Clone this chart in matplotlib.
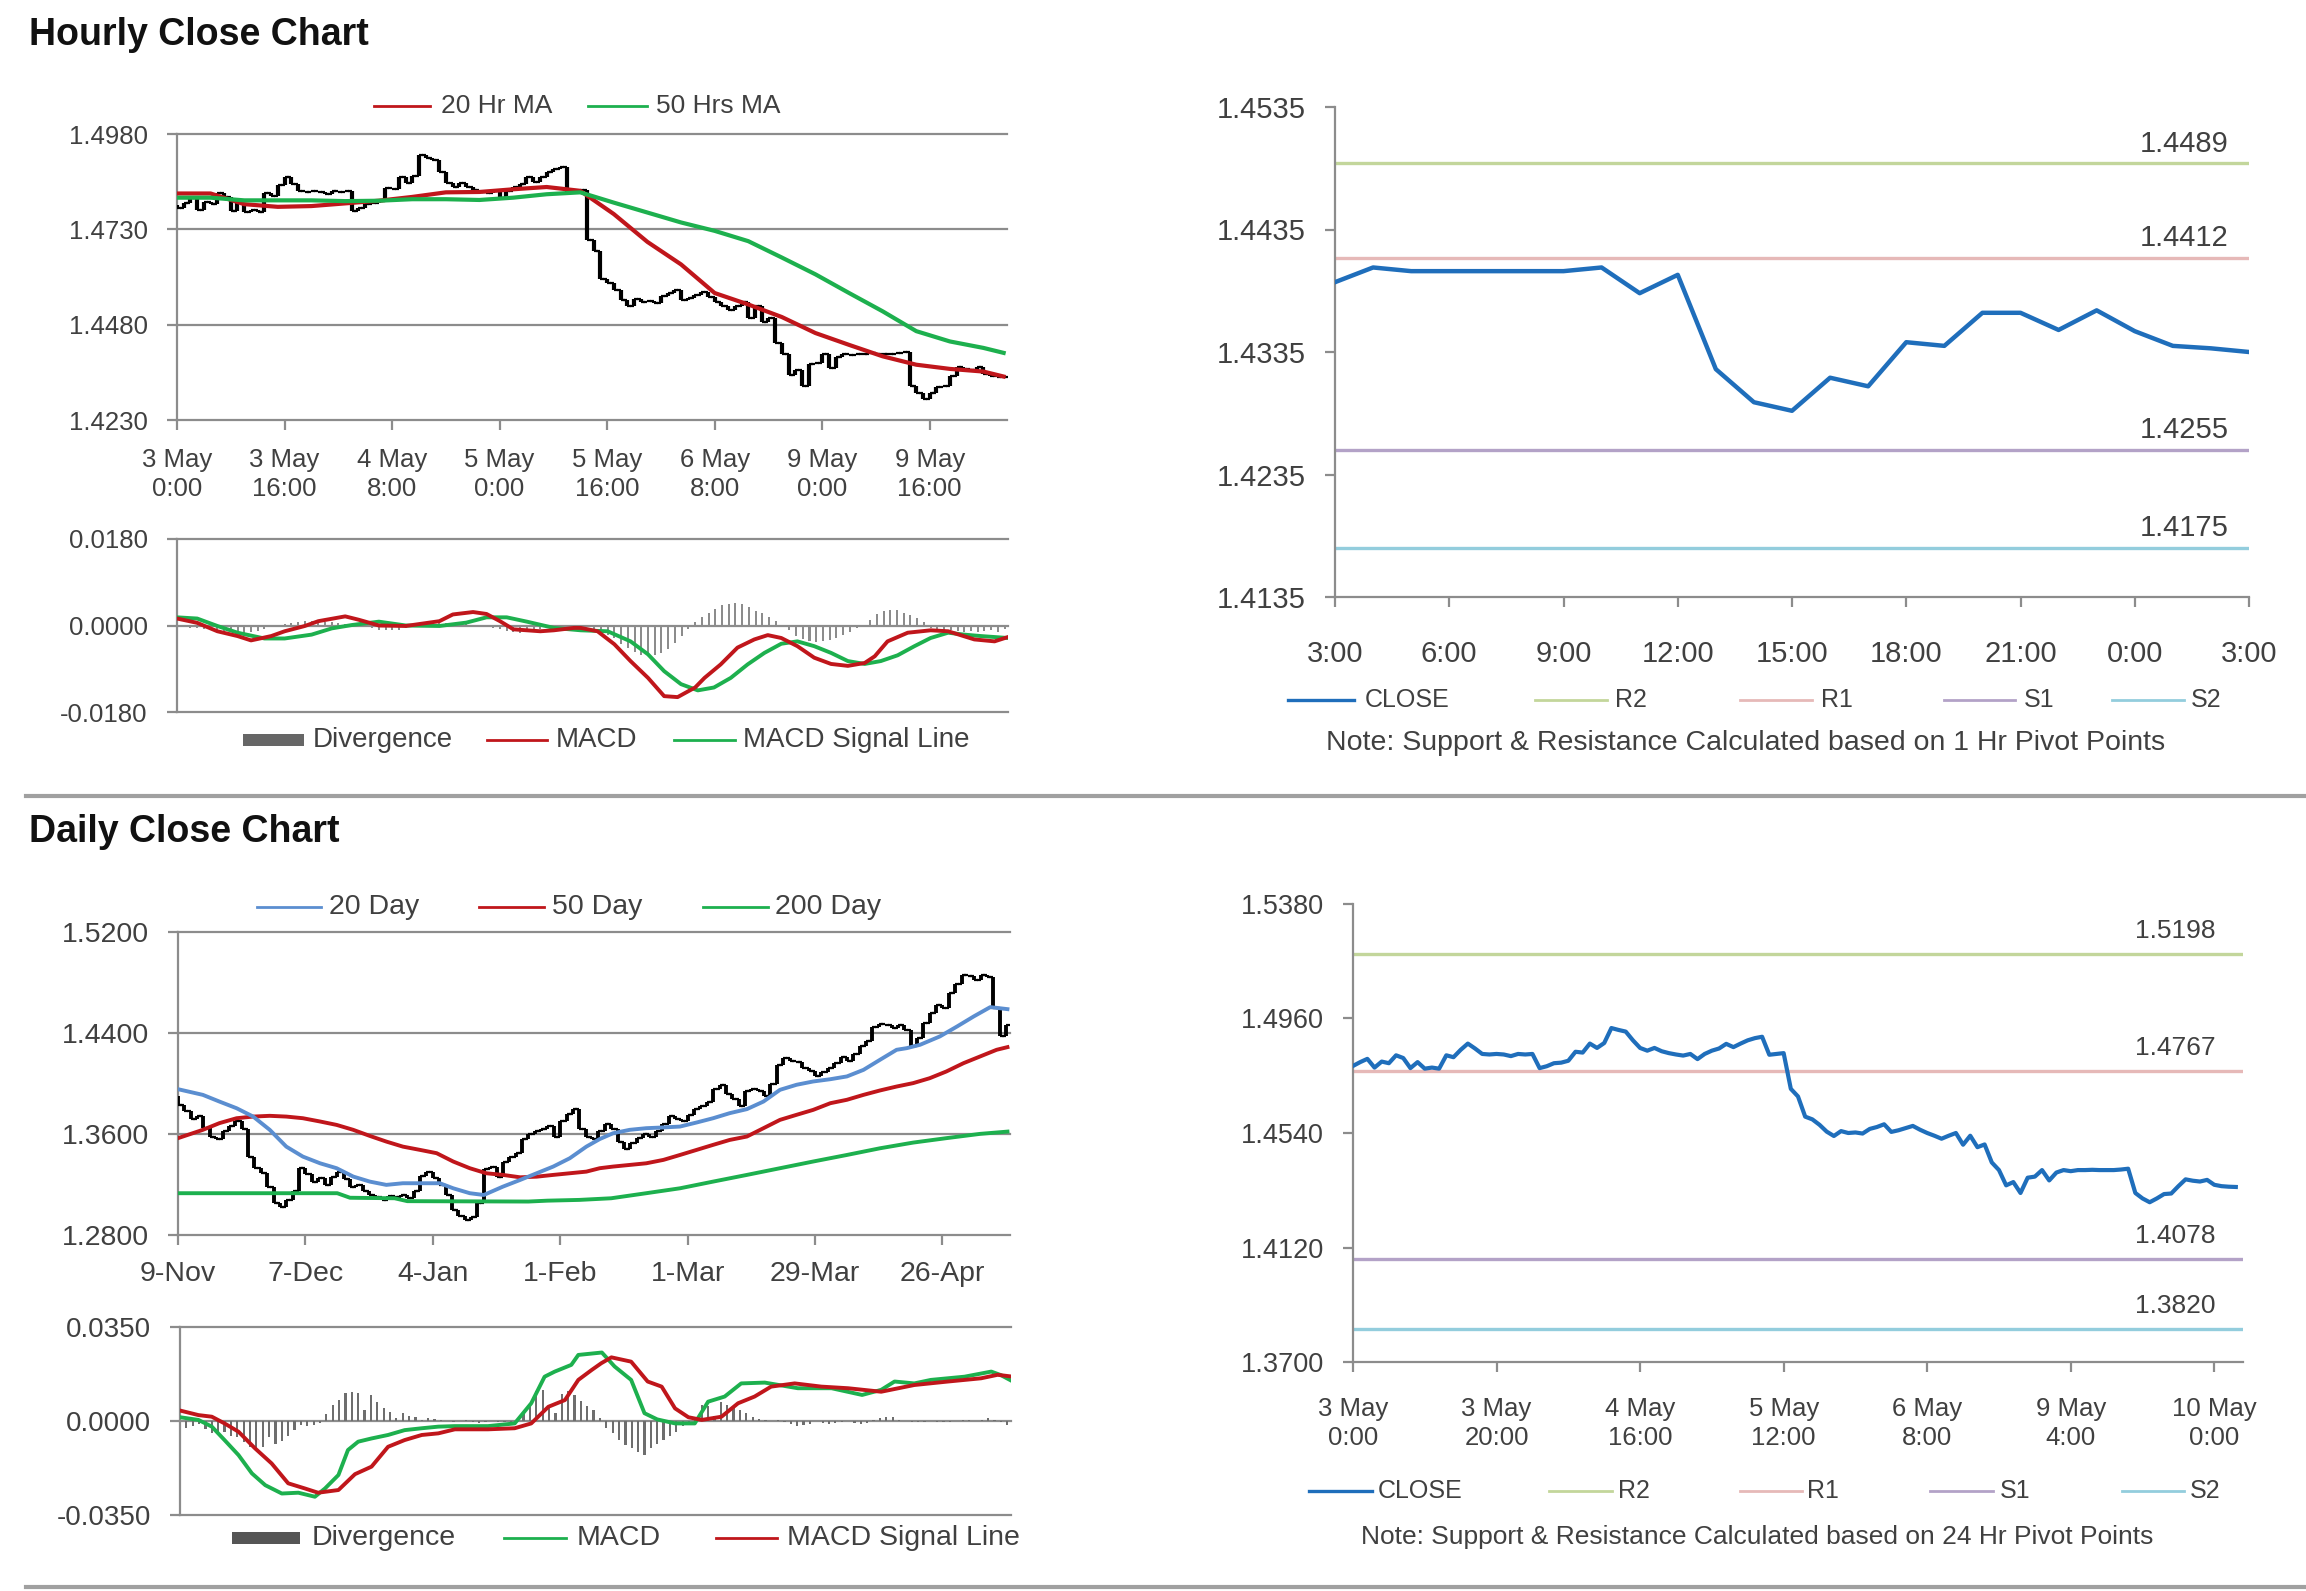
import numpy as np
import matplotlib
matplotlib.use('Agg')
import matplotlib.pyplot as plt
from matplotlib.lines import Line2D
from matplotlib.patches import Rectangle
from matplotlib.ticker import FormatStrFormatter

plt.rcParams['font.family'] = ['Liberation Sans', 'DejaVu Sans']

# ---------------- hourly data (3 May 0:00 .. 10 May 3:00) ----------------
hr_first_open = 1.4795
hr_close = [1.4786, 1.4800, 1.4812, 1.4780, 1.4802, 1.4796, 1.4825, 1.4815, 1.4778, 1.4800,
            1.4776, 1.4780, 1.4776, 1.4825, 1.4818, 1.4845, 1.4868, 1.4850, 1.4830, 1.4828,
            1.4830, 1.4828, 1.4822, 1.4830, 1.4828, 1.4830, 1.4778, 1.4785, 1.4796, 1.4798,
            1.4805, 1.4838, 1.4835, 1.4868, 1.4852, 1.4870, 1.4925, 1.4918, 1.4912, 1.4880,
            1.4852, 1.4842, 1.4852, 1.4840, 1.4833, 1.4828, 1.4824, 1.4830, 1.4811, 1.4830,
            1.4842, 1.4850, 1.4867, 1.4855, 1.4868, 1.4880, 1.4888, 1.4893, 1.4827, 1.4830,
            1.4833, 1.4702, 1.4674, 1.4600, 1.4590, 1.4570, 1.4545, 1.4529, 1.4547, 1.4540,
            1.4542, 1.4538, 1.4555, 1.4562, 1.4572, 1.4544, 1.4550, 1.4558, 1.4566, 1.4552,
            1.4540, 1.4530, 1.4519, 1.4530, 1.4540, 1.4497, 1.4530, 1.4488, 1.4498, 1.4432,
            1.4404, 1.4348, 1.4360, 1.4320, 1.4376, 1.4380, 1.4404, 1.4366, 1.4395, 1.4404,
            1.4400, 1.4404, 1.4404, 1.4405, 1.4404, 1.4404, 1.4404, 1.4406, 1.4409, 1.4320,
            1.4300, 1.4286, 1.4300, 1.4316, 1.4318, 1.4345, 1.4370, 1.4365, 1.4362, 1.4368,
            1.4350, 1.4345, 1.4343, 1.4342]
hr_ticklabels = ['3 May\n0:00', '3 May\n16:00', '4 May\n8:00', '5 May\n0:00',
                 '5 May\n16:00', '6 May\n8:00', '9 May\n0:00', '9 May\n16:00']

hr_ma_x = [0, 5, 10, 15, 20, 25, 30, 35, 40, 45, 50, 55, 60, 65, 70, 75, 80, 85, 90,
           95, 100, 105, 110, 115, 120, 123]
hr_ma20 = [1.4824, 1.4824, 1.4796, 1.4789, 1.4791, 1.4798, 1.4805, 1.4815, 1.4827, 1.4828,
           1.4835, 1.4841, 1.4831, 1.4770, 1.4697, 1.4638, 1.4563, 1.4533, 1.4500, 1.4458,
           1.4427, 1.4397, 1.4375, 1.4364, 1.4357, 1.4344]
hr_ma50 = [1.4813, 1.4813, 1.4806, 1.4806, 1.4806, 1.4804, 1.4805, 1.4809, 1.4809, 1.4807,
           1.4813, 1.4822, 1.4827, 1.4800, 1.4774, 1.4748, 1.4726, 1.4699, 1.4656, 1.4612,
           1.4563, 1.4515, 1.4463, 1.4436, 1.4419, 1.4406]

hr_macd_x = [0, 3, 6, 9, 11, 14, 16, 19, 21, 25, 27, 30, 34, 36, 39, 41, 44, 46, 48, 50,
             54, 56, 59, 60, 62.5, 65, 67.4, 70, 72.4, 74.4, 77, 78.4, 80.8, 83.3, 85.8,
             87.8, 89.8, 92.2, 94.7, 97.2, 99.7, 102.2, 103.7, 105.6, 108.6, 112, 114.6,
             118.5, 121.5, 123.5]
hr_macd = [0.00145, 0.00055, -0.0012, -0.0022, -0.0031, -0.0022, -0.0012, -0.0001, 0.0009,
           0.0019, 0.0012, 0.0000, -0.0001, 0.0003, 0.0009, 0.0023, 0.0028, 0.0024, 0.0009,
           -0.0008, -0.0012, -0.0010, -0.0005, -0.0005, -0.0012, -0.0039, -0.0074, -0.0109,
           -0.0147, -0.0149, -0.0129, -0.0109, -0.0081, -0.0046, -0.0029, -0.0020, -0.0026,
           -0.0043, -0.0067, -0.0080, -0.0084, -0.0078, -0.0064, -0.0033, -0.0015, -0.0010,
           -0.0012, -0.0029, -0.0033, -0.0024]
hr_sig_x = [0, 3, 6, 9, 13, 16, 20, 23, 26, 30, 34, 39, 43, 46, 49, 52, 56, 60, 64, 67.4,
            70, 72.4, 74.9, 77.4, 79.8, 82.3, 84.8, 87.3, 89.8, 92.2, 94.7, 97.2, 99.7,
            102.2, 104.6, 107.1, 109.6, 112, 114.6, 117, 119.5, 123.5]
hr_sig = [0.0017, 0.00145, -0.0001, -0.0015, -0.0027, -0.0027, -0.0019, -0.0006, 0.0001,
          0.0008, 0.0000, -0.0001, 0.0006, 0.0017, 0.0017, 0.0008, -0.0005, -0.0010, -0.0012,
          -0.0033, -0.0060, -0.0095, -0.0122, -0.0135, -0.0129, -0.0109, -0.0081, -0.0057,
          -0.0038, -0.0033, -0.0043, -0.0057, -0.0074, -0.0080, -0.0074, -0.0062, -0.0043,
          -0.0026, -0.0015, -0.0019, -0.0022, -0.0026]
# divergence in units of 0.0001
hr_div = [0, -3, -5, -6, -8, -10, -12, -12, -14, -15,
          -15, -14, -12, -8, -4, 2, 4, 6, 8, 9,
          9, 8, 8, 7, 5, 4, 2, 0, -3, -6,
          -9, -10, -10, -9, -6, -3, 0, 2, 4, 5,
          6, 6, 5, 4, 2, 0, -2, -5, -8, -12,
          -14, -15, -14, -12, -8, -5, -3, -1, 0, -1,
          -2, -4, -8, -12, -19, -26, -38, -47, -55, -62,
          -64, -62, -58, -48, -37, -22, -8, 8, 17, 26,
          35, 42, 44, 47, 44, 38, 31, 26, 17, 9,
          -1, -10, -22, -28, -32, -34, -33, -30, -25, -19,
          -13, -6, 0, 12, 23, 30, 33, 32, 27, 22,
          16, 7, -6, -10, -12, -10, -12, -13, -11, -14,
          -12, -10, -13, -8]

# last 24 hours, 1 Hr pivots
sr1_close = [1.4392, 1.4404, 1.4401, 1.4401, 1.4401, 1.4401, 1.4401, 1.4404, 1.4383, 1.4398,
             1.4321, 1.4294, 1.4287, 1.4314, 1.4307, 1.4343, 1.4340, 1.4367, 1.4367, 1.4353,
             1.4369, 1.4352, 1.4340, 1.4338, 1.4335]
sr1_labels = ['3:00', '6:00', '9:00', '12:00', '15:00', '18:00', '21:00', '0:00', '3:00']
sr1_levels = {'R2': 1.4489, 'R1': 1.4412, 'S1': 1.4255, 'S2': 1.4175}

# ---------------- daily data (9 Nov .. 10 May) ----------------
dy_first_open = 1.3900
dy_close = [1.3830, 1.3780, 1.3720, 1.3740, 1.3650, 1.3580, 1.3560, 1.3620, 1.3660, 1.3700,
            1.3640, 1.3420, 1.3330, 1.3290, 1.3180, 1.3050, 1.3020, 1.3080, 1.3150, 1.3330,
            1.3280, 1.3220, 1.3250, 1.3200, 1.3260, 1.3300, 1.3240, 1.3180, 1.3200, 1.3150,
            1.3120, 1.3100, 1.3080, 1.3110, 1.3100, 1.3120, 1.3090, 1.3150, 1.3270, 1.3300,
            1.3250, 1.3200, 1.3120, 1.3000, 1.2950, 1.2920, 1.2940, 1.3050, 1.3320, 1.3340,
            1.3260, 1.3380, 1.3420, 1.3450, 1.3560, 1.3600, 1.3620, 1.3640, 1.3660, 1.3580,
            1.3700, 1.3760, 1.3800, 1.3640, 1.3580, 1.3560, 1.3620, 1.3680, 1.3640, 1.3540,
            1.3480, 1.3530, 1.3570, 1.3600, 1.3580, 1.3620, 1.3680, 1.3740, 1.3720, 1.3700,
            1.3750, 1.3800, 1.3820, 1.3850, 1.3960, 1.3990, 1.3920, 1.3880, 1.3820, 1.3940,
            1.3960, 1.3940, 1.3900, 1.4000, 1.4150, 1.4200, 1.4180, 1.4170, 1.4120, 1.4100,
            1.4060, 1.4090, 1.4120, 1.4160, 1.4210, 1.4180, 1.4230, 1.4300, 1.4340, 1.4450,
            1.4470, 1.4460, 1.4440, 1.4460, 1.4420, 1.4300, 1.4360, 1.4480, 1.4560, 1.4620,
            1.4600, 1.4720, 1.4790, 1.4860, 1.4850, 1.4820, 1.4860, 1.4840, 1.4600, 1.4380,
            1.4460]
dy_ticklabels = ['9-Nov', '7-Dec', '4-Jan', '1-Feb', '1-Mar', '29-Mar', '26-Apr']

dy_ma20_x = [0, 3.9, 6.5, 9.2, 11.8, 14.4, 17, 19.6, 22.3, 24.9, 27.5, 30.1, 32.7, 35.3,
             38.5, 41.1, 43.2, 45.8, 48, 51, 53.7, 56.3, 58.9, 61.5, 64.1, 66.2, 68.3, 70.9,
             73.5, 76.2, 78.8, 81.4, 84, 86.6, 89.3, 91.9, 94.5, 97.1, 99.7, 102.4, 105,
             107.6, 110.2, 112.8, 114.4, 116.5, 119.6, 122.3, 124.9, 127.5, 130.2]
dy_ma20 = [1.3955, 1.3910, 1.3857, 1.3804, 1.3738, 1.3633, 1.3500, 1.3421, 1.3368, 1.3329,
           1.3263, 1.3223, 1.3197, 1.3210, 1.3210, 1.3210, 1.3170, 1.3131, 1.3117, 1.3183,
           1.3236, 1.3289, 1.3342, 1.3408, 1.3500, 1.3560, 1.3606, 1.3633, 1.3646, 1.3652,
           1.3659, 1.3691, 1.3725, 1.3765, 1.3797, 1.3857, 1.3950, 1.3990, 1.4016, 1.4034,
           1.4056, 1.4108, 1.4188, 1.4267, 1.4280, 1.4307, 1.4373, 1.4452, 1.4531, 1.4605,
           1.4589]
dy_ma50_x = [0, 3.9, 6.5, 9.2, 11.8, 14.4, 17, 19.6, 22.3, 24.9, 27.5, 30.1, 32.7, 35.3, 38,
             40.6, 43.2, 45.8, 48.4, 51, 53.7, 56.3, 58.9, 61.5, 64.1, 66.2, 68.3, 70.9, 73.5,
             76.2, 78.8, 81.4, 84, 86.6, 89.3, 91.9, 94.5, 97.1, 99.7, 102.4, 105, 107.6,
             110.2, 112.8, 115.4, 118, 120.6, 123.3, 125.9, 128.5, 130.2]
dy_ma50 = [1.3567, 1.3633, 1.3686, 1.3725, 1.3738, 1.3744, 1.3738, 1.3725, 1.3699, 1.3672,
           1.3633, 1.3585, 1.3540, 1.3500, 1.3474, 1.3448, 1.3382, 1.3329, 1.3289, 1.3276,
           1.3257, 1.3262, 1.3276, 1.3289, 1.3302, 1.3329, 1.3342, 1.3355, 1.3368, 1.3395,
           1.3434, 1.3474, 1.3514, 1.3553, 1.3580, 1.3646, 1.3712, 1.3752, 1.3791, 1.3844,
           1.3871, 1.3910, 1.3945, 1.3976, 1.4003, 1.4042, 1.4095, 1.4161, 1.4214, 1.4267,
           1.4288]
dy_ma200_x = [0, 25, 27, 34, 36, 55, 58, 63, 68, 73.5, 78.8, 84, 89.3, 94.5, 99.7, 105,
              110.2, 115.4, 120.6, 125.9, 130.2]
dy_ma200 = [1.3131, 1.3131, 1.3095, 1.3091, 1.3068, 1.3065, 1.3072, 1.3078, 1.3091, 1.3131,
            1.3170, 1.3223, 1.3276, 1.3329, 1.3382, 1.3434, 1.3487, 1.3532, 1.3567, 1.3601,
            1.3619]

dy_macd_x = [0, 2.9, 5, 7, 9.2, 11.3, 13.4, 16, 18.6, 21.2, 22.8, 24.9, 26.4, 28, 30.1,
             32.7, 35.3, 38, 40.6, 43.2, 48.4, 52.6, 55.2, 57.3, 58.9, 61.5, 62.6, 66.3, 68.3,
             70.9, 73, 75, 77.8, 80.9, 83, 85.6, 88.2, 91.9, 97.1, 102.4, 107.2, 110.2, 112.3,
             115.4, 118, 123.3, 127.5, 129, 130.9]
dy_macd = [0.0014, 0.0004, -0.0021, -0.0071, -0.0127, -0.0195, -0.0239, -0.0270, -0.0267,
           -0.0282, -0.0251, -0.0201, -0.0108, -0.0077, -0.0065, -0.0052, -0.0034, -0.0027,
           -0.0021, -0.0019, -0.0019, -0.0009, 0.0066, 0.0165, 0.0184, 0.0209, 0.0246, 0.0255,
           0.0203, 0.0153, 0.0029, 0.0006, -0.0009, -0.0009, 0.0072, 0.0091, 0.0140, 0.0143,
           0.0122, 0.0122, 0.0097, 0.0116, 0.0147, 0.0140, 0.0153, 0.0165, 0.0184, 0.0171,
           0.0147]
dy_sig_x = [0, 2.9, 5, 7, 9.2, 11.8, 14.4, 17, 19.6, 21.7, 24.9, 27.5, 30.1, 32.7, 35.3, 38,
            40.6, 43.2, 48.4, 52.6, 55.2, 57.9, 60.5, 62.6, 64.7, 66.2, 67.8, 70.9, 73.5,
            75.7, 77.8, 79.9, 82, 85.1, 87.7, 90.3, 92.9, 96.6, 100.8, 105, 110.2, 115.4,
            120.7, 125.9, 128.5, 130.9]
dy_sig = [0.0039, 0.0022, 0.0016, -0.0009, -0.0040, -0.0102, -0.0158, -0.0232, -0.0251,
          -0.0267, -0.0257, -0.0198, -0.0170, -0.0096, -0.0071, -0.0052, -0.0046, -0.0031,
          -0.0031, -0.0027, -0.0009, 0.0053, 0.0078, 0.0153, 0.0190, 0.0215, 0.0237, 0.0221,
          0.0147, 0.0128, 0.0047, 0.0014, 0.0004, 0.0016, 0.0066, 0.0091, 0.0128, 0.0140,
          0.0128, 0.0122, 0.0109, 0.0134, 0.0147, 0.0159, 0.0172, 0.0165]
# divergence in units of 0.0001
dy_div = [-25, -27, -20, -10, -30, -45, -50, -40, -55, -60,
          -80, -95, -100, -95, -60, -85, -75, -55, -35, -15,
          -20, -15, -8, 25, 60, 80, 105, 108, 105, 40,
          95, 70, 50, 35, 10, 30, 20, 15, 5, 10,
          8, 5, 0, -5, 0, 3, -5, -8, -5, 0,
          -3, -5, -5, 0, 30, 60, 110, 115, 60, 30,
          100, 110, 95, 75, 55, 40, 10, -25, -45, -70,
          -90, -100, -115, -125, -100, -85, -70, -55, -40, -20,
          -5, 15, 60, 55, 20, 70, 60, 50, 40, 30,
          15, 8, 5, 0, 3, -5, -10, -18, -15, -12,
          0, -8, -10, -6, -5, 0, -8, -12, -8, 3,
          10, 15, 15, 5, 0, -3, -5, -2, 0, -3,
          -4, -2, 0, 2, 3, 1, 2, 12, 5, -3,
          -15]

sr24_labels = ['3 May\n0:00', '3 May\n20:00', '4 May\n16:00', '5 May\n12:00',
               '6 May\n8:00', '9 May\n4:00', '10 May\n0:00']
sr24_levels = {'R2': 1.5198, 'R1': 1.4767, 'S1': 1.4078, 'S2': 1.3820}

# ---------------- styling ----------------
W, H = 2306, 1591
fig = plt.figure(figsize=(W / 100, H / 100), dpi=100)
fig.patch.set_facecolor('white')

GRID = '#8C8C8C'
TXT = '#404040'
RED = '#C0161B'
GREEN = '#1DB04E'
BLUE20 = '#5B8ED0'
CLOSE_BLUE = '#1F6EBB'
PIV = {'R2': '#C3D69B', 'R1': '#E6B9B8', 'S1': '#B3A2C7', 'S2': '#93CDDD'}


def box(l, t, r, b):
    return fig.add_axes([l / W, 1 - b / H, (r - l) / W, (b - t) / H])


def style(ax, yticks, grid=True, ypad=14, fs=18):
    for s in ('top', 'right'):
        ax.spines[s].set_visible(False)
    for s in ('left', 'bottom'):
        ax.spines[s].set_color(GRID)
        ax.spines[s].set_linewidth(1.6)
    ax.set_yticks(yticks)
    ax.set_ylim(yticks[0], yticks[-1])
    ax.yaxis.set_major_formatter(FormatStrFormatter('%.4f'))
    ax.tick_params(axis='both', colors=GRID, labelcolor=TXT, labelsize=fs, length=7, width=1.6)
    ax.tick_params(axis='y', pad=ypad)
    if grid:
        for t in yticks[1:]:
            ax.axhline(t, color=GRID, lw=1.6, zorder=0, clip_on=False)


def ohlc(ax, first_open, closes, lw=3.0):
    c = np.array(closes)
    o = np.concatenate([[first_open], c[:-1]])
    x = np.arange(len(c))
    ax.vlines(x, np.minimum(o, c), np.maximum(o, c), color='black', lw=lw, zorder=3)
    ax.plot(x, o, ls='none', marker=0, ms=3, mew=1.6, color='black', zorder=3)
    ax.plot(x, c, ls='none', marker=1, ms=3, mew=1.6, color='black', zorder=3)


def key(x0, x1, tx, y, color, label, kind='line', lw=2.0, fs=18):
    yy = 1 - y / H
    if kind == 'bar':
        fig.add_artist(Rectangle((x0 / W, yy - 6 / H), (x1 - x0) / W, 12 / H,
                                 facecolor=color, edgecolor='none'))
    else:
        fig.add_artist(Line2D([x0 / W, x1 / W], [yy, yy], color=color, lw=lw))
    fig.text(tx / W, yy, label, ha='left', va='center', fontsize=fs, color=TXT)


def pivots(ax, levels, xlab, dy, fs):
    for name, v in levels.items():
        ax.axhline(v, color=PIV[name], lw=2.4, zorder=1)
        ax.annotate(f'{v:.4f}', xy=(xlab, v), xytext=(0, dy), textcoords='offset points',
                    ha='center', va='bottom', fontsize=fs, color=TXT)


# ---------------- Hourly price ----------------
ax = box(177, 134, 1007, 420)
style(ax, [1.4230, 1.4480, 1.4730, 1.4980], fs=18.5)
ohlc(ax, hr_first_open, hr_close)
ax.plot(hr_ma_x, hr_ma20, color=RED, lw=3, zorder=4)
ax.plot(hr_ma_x, hr_ma50, color=GREEN, lw=3, zorder=4)
ax.set_xlim(0, 123.5)
ax.set_xticks(np.arange(0, 124, 16))
ax.set_xticklabels(hr_ticklabels, linespacing=1.3)
ax.tick_params(axis='x', pad=13)
key(374, 430, 441, 106, RED, '20 Hr MA', fs=19)
key(588, 647, 656, 106, GREEN, '50 Hrs MA', fs=19)

# ---------------- Hourly MACD ----------------
ax = box(177, 539, 1008, 712)
style(ax, [-0.018, 0.0, 0.018], fs=18.5)
ax.bar(np.arange(len(hr_div)), np.array(hr_div) * 1e-4, width=0.3, color='#8C8C8C', zorder=2)
ax.plot(hr_sig_x, hr_sig, color=GREEN, lw=2.8, zorder=3)
ax.plot(hr_macd_x, hr_macd, color=RED, lw=2.8, zorder=4)
ax.set_xlim(0, 123.5)
ax.set_xticks([])
key(243, 304, 313, 740, '#666666', 'Divergence', kind='bar', fs=20)
key(487, 547, 556, 740, RED, 'MACD', fs=20)
key(674, 735, 743, 740, GREEN, 'MACD Signal Line', fs=20)

# ---------------- Hourly S&R ----------------
ax = box(1335, 107, 2249, 597)
style(ax, [1.4135, 1.4235, 1.4335, 1.4435, 1.4535], grid=False, ypad=14, fs=21)
pivots(ax, sr1_levels, 22.3, 4, 21)
ax.plot(np.arange(len(sr1_close)), sr1_close, color=CLOSE_BLUE, lw=3.2, zorder=3)
ax.set_xlim(0, 24)
ax.set_xticks(np.arange(0, 25, 3))
ax.set_xticklabels(sr1_labels)
ax.tick_params(axis='x', pad=24)
key(1288, 1354, 1365, 700, CLOSE_BLUE, 'CLOSE', lw=2.4)
key(1535, 1607, 1615, 700, PIV['R2'], 'R2')
key(1740, 1812, 1821, 700, PIV['R1'], 'R1')
key(1944, 2015, 2024, 700, PIV['S1'], 'S1')
key(2112, 2184, 2191, 700, PIV['S2'], 'S2')
fig.text(1746 / W, 1 - 743 / H, 'Note: Support & Resistance Calculated based on 1 Hr Pivot Points',
         ha='center', va='center', fontsize=20.5, color=TXT)

# ---------------- Daily price ----------------
ax = box(178, 932, 1010, 1235)
style(ax, [1.2800, 1.3600, 1.4400, 1.5200], ypad=14, fs=20.5)
ohlc(ax, dy_first_open, dy_close, lw=2.8)
ax.plot(dy_ma200_x, dy_ma200, color=GREEN, lw=2.8, zorder=4)
ax.plot(dy_ma50_x, dy_ma50, color=RED, lw=2.8, zorder=4)
ax.plot(dy_ma20_x, dy_ma20, color=BLUE20, lw=2.8, zorder=4)
ax.set_xlim(0, 130.6)
ax.set_xticks(np.arange(0, 121, 20))
ax.set_xticklabels(dy_ticklabels)
ax.tick_params(axis='x', pad=12)
key(257, 321, 329, 907, BLUE20, '20 Day', fs=20.5)
key(479, 544, 552, 907, RED, '50 Day', fs=20.5)
key(703, 768, 775, 907, GREEN, '200 Day', fs=20.5)

# ---------------- Daily MACD ----------------
ax = box(180, 1327, 1011, 1515)
style(ax, [-0.035, 0.0, 0.035], ypad=14, fs=20)
ax.bar(np.arange(len(dy_div)), np.array(dy_div) * 1e-4, width=0.35, color='#6E6E6E', zorder=2)
ax.plot(dy_macd_x, dy_macd, color=GREEN, lw=2.8, zorder=3)
ax.plot(dy_sig_x, dy_sig, color=RED, lw=2.8, zorder=4)
ax.set_xlim(0, 130.6)
ax.set_xticks([])
key(232, 300, 312, 1538, '#555555', 'Divergence', kind='bar', fs=20.5)
key(504, 566, 577, 1538, GREEN, 'MACD', fs=20.5)
key(716, 777, 787, 1538, RED, 'MACD Signal Line', fs=20.5)

# ---------------- Daily S&R (24 Hr pivots) ----------------
ax = box(1353, 904, 2243, 1362)
style(ax, [1.3700, 1.4120, 1.4540, 1.4960, 1.5380], grid=False, ypad=14, fs=19.5)
pivots(ax, sr24_levels, 114.6, 8, 19)
ax.plot(np.arange(len(hr_close)), hr_close, color=CLOSE_BLUE, lw=3, zorder=3)
ax.set_xlim(0, 124)
ax.set_xticks(np.arange(0, 121, 20))
ax.set_xticklabels(sr24_labels, linespacing=1.3)
ax.tick_params(axis='x', pad=18, labelsize=18.5)
key(1309, 1372, 1378, 1491, CLOSE_BLUE, 'CLOSE', lw=2.4)
key(1549, 1612, 1618, 1491, PIV['R2'], 'R2')
key(1740, 1802, 1807, 1491, PIV['R1'], 'R1')
key(1930, 1993, 2000, 1491, PIV['S1'], 'S1')
key(2122, 2184, 2190, 1491, PIV['S2'], 'S2')
fig.text(1757 / W, 1 - 1537 / H, 'Note: Support & Resistance Calculated based on 24 Hr Pivot Points',
         ha='center', va='center', fontsize=19, color=TXT)

# ---------------- titles & separators ----------------
fig.text(29 / W, 1 - 35 / H, 'Hourly Close Chart', fontsize=27, fontweight='bold',
         va='center', color='#111111')
fig.text(29 / W, 1 - 832 / H, 'Daily Close Chart', fontsize=27, fontweight='bold',
         va='center', color='#111111')
for y in (796, 1587):
    fig.add_artist(Line2D([26 / W, 1], [1 - y / H] * 2, color='#A0A0A0', lw=3))

fig.savefig('out.png', dpi=100, facecolor='white')
